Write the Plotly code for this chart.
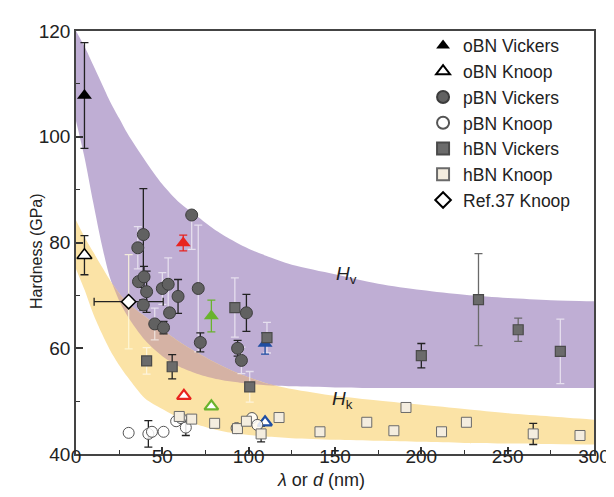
import numpy as np
import plotly.graph_objects as go

# ---------------- data ----------------
# band edges on a common x grid
band_x = [0, 5, 10, 15, 20, 25, 30, 40, 50, 60, 70, 80, 90, 100, 110, 125, 150, 175, 200, 225, 250, 275, 300]
hv_upper = [120, 117, 113.5, 110, 106.5, 103.5, 100.5, 95.5, 91, 87.5, 85, 82.5, 80.5, 78.8, 77.5, 75.8, 74, 72.2, 71, 70.1, 69.5, 69.1, 68.9]
hv_lower = [103, 96, 87.5, 79.5, 73, 69, 66, 61.5, 58.5, 56.5, 55.2, 54.3, 53.7, 53.3, 53.0, 52.8, 52.6, 52.5, 52.5, 52.5, 52.5, 52.5, 52.5]
hk_upper = [84.2, 81, 78.2, 75.4, 72.7, 70.4, 68.5, 66, 63.5, 61.2, 59.2, 57.4, 55.8, 54.5, 53.4, 52.3, 51, 50.1, 49.3, 48.5, 47.7, 47.1, 46.5]
hk_lower = [75, 71, 66.5, 62.8, 59.5, 56.8, 54.5, 50.5, 48.5, 46.8, 45.6, 44.7, 44, 43.6, 43.3, 43, 42.7, 42.5, 42.3, 42.1, 42, 41.9, 41.8]

# oBN (black) Vickers / Knoop
obn_v_x = [4.9]
obn_v_y = [107.8]
obn_v_err = [10.0]
obn_k_x = [4.9]
obn_k_y = [77.6]
obn_k_err = [3.7]

# oBN coloured samples
obn_c_colors = ["#e8231f", "#69b32d", "#1f4ea3"]
obn_cv_x = [62.1, 78.4, 109.5]
obn_cv_y = [79.9, 66.1, 60.9]
obn_cv_err = [1.5, 3.0, 2.0]
obn_ck_x = [62.5, 78.4, 109.5]
obn_ck_y = [51.0, 49.0, 46.0]

# pBN Vickers ('k' = dark error bar, 'l' = light error bar)
pbn_v_x = [39.0, 35.8, 36.2, 39.4, 40.9, 39.0, 50.0, 53.4, 59.1, 54.2, 45.6, 50.7, 67.0, 70.8, 72.0, 98.7, 93.6, 95.8]
pbn_v_y = [81.5, 79.0, 72.6, 73.5, 70.7, 68.2, 71.3, 72.1, 69.8, 66.7, 64.6, 63.9, 85.2, 71.3, 61.1, 66.7, 60.0, 57.7]
pbn_v_err = [8.7, 4.0, 0.0, 2.0, 3.9, 1.0, 3.0, 5.0, 3.2, 0.8, 3.0, 1.2, 6.5, 12.0, 1.8, 3.5, 1.5, 2.5]
pbn_v_errc = ["k", "l", "k", "k", "k", "k", "l", "l", "k", "k", "l", "k", "l", "l", "k", "k", "k", "l"]

# pBN Knoop
pbn_k_x = [30.5, 41.9, 44.0, 50.7, 58.0, 60.8, 63.6, 93.0, 101.9, 105.0]
pbn_k_y = [44.0, 43.8, 44.2, 44.2, 46.2, 46.8, 45.0, 44.9, 46.8, 45.5]
pbn_k_err = [0, 2.5, 0, 0, 0, 0, 1.5, 0, 0, 0]

# hBN Vickers
hbn_v_x = [40.9, 55.7, 92.0, 100.6, 110.6, 200.0, 233.1, 256.1, 280.5]
hbn_v_y = [57.6, 56.5, 67.7, 52.7, 62.0, 58.6, 69.2, 63.5, 59.4]
hbn_v_err = [2.5, 2.3, 5.6, 2.9, 2.9, 2.3, 8.7, 2.2, 6.1]
hbn_v_errc = ["l", "k", "l", "l", "l", "k", "g", "g", "l"]

# hBN Knoop
hbn_k_x = [59.8, 67.0, 80.3, 93.5, 98.7, 107.2, 117.6, 141.3, 168.4, 184.1, 191.1, 211.7, 226.1, 264.8, 291.9]
hbn_k_y = [47.1, 46.6, 45.8, 44.8, 46.2, 43.8, 46.9, 44.2, 46.0, 44.4, 48.8, 44.2, 46.0, 43.8, 43.5]
hbn_k_err = [0, 0, 0, 0, 0, 1.5, 0, 0, 0, 0, 0, 0, 0, 2.0, 0]

# Ref.37 Knoop
ref_x = [30.5]
ref_y = [68.8]
ref_xerr = [20.0]
ref_yerr = [8.9]

# ---------------- styles ----------------
FONT = "Liberation Sans, Arial, sans-serif"
PURPLE = "#bfaed4"
ORANGE = "#fbe3a6"
BROWN = "#d5b2a4"
ERRC = {"k": "#222222", "l": "rgba(255,255,255,0.6)", "g": "#6a6a6a"}

fig = go.Figure()


def band(xs, lo, hi, color):
    fig.add_trace(go.Scatter(x=xs, y=lo, mode="lines", line=dict(width=0, shape="spline", smoothing=0.8),
                             hoverinfo="skip", showlegend=False))
    fig.add_trace(go.Scatter(x=xs, y=hi, mode="lines", line=dict(width=0, shape="spline", smoothing=0.8),
                             fill="tonexty", fillcolor=color, hoverinfo="skip", showlegend=False))


band(band_x, hv_lower, hv_upper, PURPLE)
band(band_x, hk_lower, hk_upper, ORANGE)

# overlap of the two bands (between hv_lower and hk_upper where they cross)
bx = np.array(band_x, float)
pl = np.array(hv_lower, float)
ou = np.array(hk_upper, float)
d = ou - pl
ox, olo, ohi = [], [], []
for i in range(len(bx)):
    if i > 0 and np.sign(d[i]) != np.sign(d[i - 1]) and d[i] != 0 and d[i - 1] != 0:
        t = d[i - 1] / (d[i - 1] - d[i])
        xc = bx[i - 1] + t * (bx[i] - bx[i - 1])
        yc = pl[i - 1] + t * (pl[i] - pl[i - 1])
        ox.append(xc); olo.append(yc); ohi.append(yc)
    if d[i] > 0:
        ox.append(bx[i]); olo.append(pl[i]); ohi.append(ou[i])
band(ox, olo, ohi, BROWN)


def err_trace(xs, ys, errs, color, width=4, thick=1.3):
    fig.add_trace(go.Scatter(x=xs, y=ys, mode="markers", marker=dict(size=1, opacity=0),
                             error_y=dict(type="data", array=errs, color=color, thickness=thick, width=width),
                             hoverinfo="skip", showlegend=False))


def split_err(xs, ys, errs, cols):
    for key in ("l", "g", "k"):
        idx = [i for i, c in enumerate(cols) if c == key and errs[i] > 0]
        if idx:
            err_trace([xs[i] for i in idx], [ys[i] for i in idx], [errs[i] for i in idx], ERRC[key])


# error bars
split_err(pbn_v_x, pbn_v_y, pbn_v_err, pbn_v_errc)
split_err(hbn_v_x, hbn_v_y, hbn_v_err, hbn_v_errc)
err_trace(obn_v_x, obn_v_y, obn_v_err, "#222222")
err_trace(obn_k_x, obn_k_y, obn_k_err, "#222222")
for i in range(3):
    err_trace([obn_cv_x[i]], [obn_cv_y[i]], [obn_cv_err[i]], obn_c_colors[i])
split_err(pbn_k_x, pbn_k_y, pbn_k_err, ["k"] * len(pbn_k_x))
split_err(hbn_k_x, hbn_k_y, hbn_k_err, ["k"] * len(hbn_k_x))
fig.add_trace(go.Scatter(x=ref_x, y=ref_y, mode="markers", marker=dict(size=1, opacity=0),
                         error_y=dict(type="data", array=ref_yerr, color="rgba(255,250,220,0.8)", thickness=1.3, width=4),
                         error_x=dict(type="data", array=ref_xerr, color="#222222", thickness=1.3, width=4),
                         hoverinfo="skip", showlegend=False))

# markers (non-legend coloured triangles)
for i in range(3):
    fig.add_trace(go.Scatter(x=[obn_cv_x[i]], y=[obn_cv_y[i]], mode="markers",
                             marker=dict(symbol="triangle-up", size=13, color=obn_c_colors[i],
                                         line=dict(width=0)), showlegend=False))
    fig.add_trace(go.Scatter(x=[obn_ck_x[i]], y=[obn_ck_y[i]], mode="markers",
                             marker=dict(symbol="triangle-up", size=12, color="white",
                                         line=dict(width=2.2, color=obn_c_colors[i])), showlegend=False))

# legend traces (order = legend order)
fig.add_trace(go.Scatter(x=obn_v_x, y=obn_v_y, mode="markers", name="oBN Vickers",
                         marker=dict(symbol="triangle-up", size=13, color="black", line=dict(width=0))))
fig.add_trace(go.Scatter(x=obn_k_x, y=obn_k_y, mode="markers", name="oBN Knoop",
                         marker=dict(symbol="triangle-up", size=13, color="white", line=dict(width=1.5, color="black"))))
fig.add_trace(go.Scatter(x=pbn_v_x, y=pbn_v_y, mode="markers", name="pBN Vickers",
                         marker=dict(symbol="circle", size=12, color="#616161", line=dict(width=1, color="#3c3c3c"))))
fig.add_trace(go.Scatter(x=pbn_k_x, y=pbn_k_y, mode="markers", name="pBN Knoop",
                         marker=dict(symbol="circle", size=11, color="rgba(255,255,255,0.85)", line=dict(width=1, color="#555555"))))
fig.add_trace(go.Scatter(x=hbn_v_x, y=hbn_v_y, mode="markers", name="hBN Vickers",
                         marker=dict(symbol="square", size=10, color="#6b6b6b", line=dict(width=1.2, color="#4a4a4a"))))
fig.add_trace(go.Scatter(x=hbn_k_x, y=hbn_k_y, mode="markers", name="hBN Knoop",
                         marker=dict(symbol="square", size=10, color="#f4eddf", line=dict(width=1, color="#6a6a6a"))))
fig.add_trace(go.Scatter(x=ref_x, y=ref_y, mode="markers", name="Ref.37 Knoop",
                         marker=dict(symbol="diamond", size=11, color="white", line=dict(width=1.5, color="black"))))

axis_common = dict(showline=True, linecolor="#444444", linewidth=1.5, mirror=True,
                   ticks="inside", ticklen=7, tickwidth=1.5, tickcolor="#333333",
                   showgrid=False, zeroline=False,
                   tickfont=dict(family=FONT, size=19, color="#222222"))

fig.update_layout(
    width=614, height=497,
    margin=dict(l=68, r=18, t=23, b=51),
    paper_bgcolor="white", plot_bgcolor="white",
    font=dict(family=FONT, size=17, color="#222222"),
    xaxis=dict(range=[0, 300], dtick=50, tick0=0, ticklabelstandoff=-16,
               minor=dict(ticks="inside", ticklen=4, dtick=25, tickcolor="#333333", tickwidth=1.3),
               **axis_common),
    yaxis=dict(range=[40, 120], dtick=20, tick0=40,
               minor=dict(ticks="inside", ticklen=4, dtick=10, tickcolor="#333333", tickwidth=1.3),
               **axis_common),
    legend=dict(x=0.67, y=1.008, xanchor="left", yanchor="top", bgcolor="rgba(0,0,0,0)",
                traceorder="normal",
                font=dict(family=FONT, size=17.5, color="#222222"), tracegroupgap=0, itemsizing="constant"),
    showlegend=True,
    annotations=[
        dict(x=156.8, y=73.9, xref="x", yref="y", text="<i>H</i><sub>v</sub>", showarrow=False,
             font=dict(family=FONT, size=19, color="#222222")),
        dict(x=154.5, y=50.2, xref="x", yref="y", text="<i>H</i><sub>k</sub>", showarrow=False,
             font=dict(family=FONT, size=19, color="#222222")),
        dict(x=-0.0966, y=0.481, xref="paper", yref="paper", text="Hardness (GPa)", textangle=-90,
             showarrow=False, font=dict(family=FONT, size=16, color="#222222")),
        dict(x=0.473, y=-0.09, xref="paper", yref="paper", text="<i>λ</i> or <i>d</i> (nm)",
             showarrow=False, font=dict(family=FONT, size=18, color="#222222")),
    ],
)

fig.write_html("out.html")
